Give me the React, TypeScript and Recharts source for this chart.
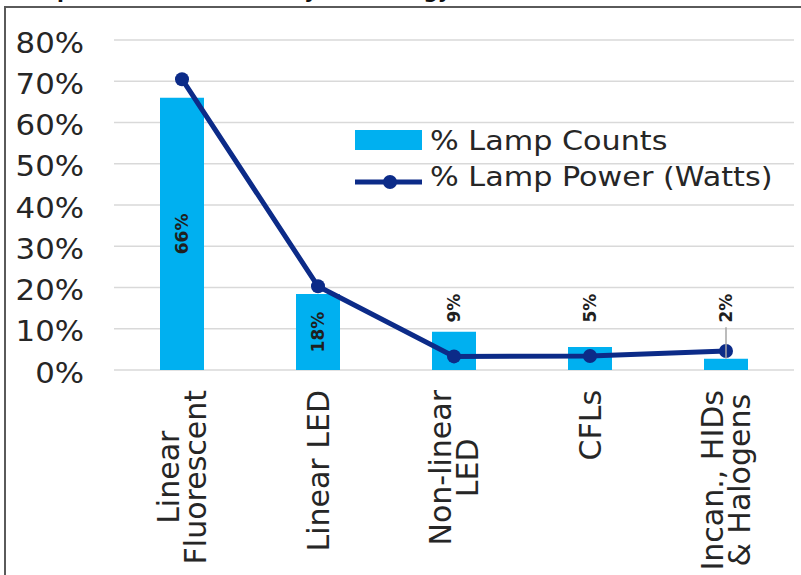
import React from 'react';
import { ComposedChart, Bar, Line, XAxis, YAxis, CartesianGrid, Legend, LabelList } from 'recharts';

const title = 'Lamp Counts and Power by Technology';
const categories = ['Linear\nFluorescent', 'Linear LED', 'Non-linear\nLED', 'CFLs', 'Incan., HIDs\n& Halogens'];
const lampCounts = [66, 18.4, 9.3, 5.6, 2.7];
const lampCountLabels = ['66%', '18%', '9%', '5%', '2%'];
const lampPower = [70.5, 20.3, 3.3, 3.4, 4.6];
const yTicks = [0, 10, 20, 30, 40, 50, 60, 70, 80];
const seriesNames = ['% Lamp Counts', '% Lamp Power (Watts)'];

const data = categories.map((c, i) => ({
  category: c,
  counts: lampCounts[i],
  power: lampPower[i],
}));

const BAR_COLOR = '#00B0F0';
const LINE_COLOR = '#0C2B88';
const TEXT_COLOR = '#262626';
const FONT = '"DejaVu Sans", Verdana, sans-serif';

let ctx: CanvasRenderingContext2D | null = null;
function measure(t: string, fs: number) {
  if (typeof document !== 'undefined') {
    if (!ctx) ctx = document.createElement('canvas').getContext('2d');
    if (ctx) {
      ctx.font = `${fs}px "DejaVu Sans"`;
      return ctx.measureText(t).width;
    }
  }
  return t.length * fs * 0.6;
}

const YTick = (p: any) => (
  <text
    transform={`translate(${p.x},${p.y}) scale(1.1,1)`}
    textAnchor="end"
    dy={12.5}
    fontSize={28}
    fontFamily={FONT}
    fill={TEXT_COLOR}
  >
    {`${p.payload.value}%`}
  </text>
);

const XTick = (p: any) => {
  const { x, y, payload } = p;
  const lines = String(payload.value).split('\n');
  const fs = 30;
  const spacing = 27;
  const maxLen = Math.max(...lines.map((l) => measure(l, fs)));
  const cy = y + maxLen / 2;
  return (
    <g>
      {lines.map((l, i) => {
        const cx = x + (i - (lines.length - 1) / 2) * spacing + fs * 0.36;
        return (
          <text
            key={i}
            transform={`translate(${cx},${cy}) rotate(-90)`}
            textAnchor="middle"
            fontSize={fs}
            fontFamily={FONT}
            fill={TEXT_COLOR}
          >
            {l}
          </text>
        );
      })}
    </g>
  );
};

const BarLabel = (p: any) => {
  const { x, y, width, height, value, index } = p;
  const cx = x + width / 2;
  const base = y + height;
  const pxPerUnit = height / value;
  const inside = value >= 15;
  const cy = inside ? y + height / 2 : base - 15 * pxPerUnit;
  const half = 16;
  const gap = y - (cy + half);
  const leader = !inside && gap > 25;
  return (
    <g>
      {leader && (
        <line x1={cx} x2={cx} y1={cy + half + 3} y2={y} stroke="#a6a6a6" strokeWidth={1.5} />
      )}
      <text
        transform={`translate(${cx},${cy}) rotate(-90)`}
        textAnchor="middle"
        dy="0.36em"
        fontSize={17}
        fontWeight="bold"
        fontFamily={FONT}
        fill="#1f1f1f"
      >
        {lampCountLabels[index]}
      </text>
    </g>
  );
};

const renderLegend = () => (
  <svg width={450} height={80} style={{ display: 'block', overflow: 'visible' }}>
    <rect x={5} y={10} width={67} height={20} fill={BAR_COLOR} />
    <text transform="translate(80,30) scale(1.12,1)" fontSize={27} fontFamily={FONT} fill={TEXT_COLOR}>
      {seriesNames[0]}
    </text>
    <line x1={5} x2={72} y1={62} y2={62} stroke={LINE_COLOR} strokeWidth={5} />
    <circle cx={40} cy={62} r={7} fill={LINE_COLOR} />
    <text transform="translate(80,66) scale(1.12,1)" fontSize={27} fontFamily={FONT} fill={TEXT_COLOR}>
      {seriesNames[1]}
    </text>
  </svg>
);

export default function App() {
  return (
    <div
      style={{
        position: 'absolute',
        left: 0,
        top: 0,
        width: 801,
        height: 575,
        overflow: 'hidden',
        background: '#fff',
      }}
    >
      <div
        style={{
          position: 'absolute',
          left: 4,
          top: 6,
          width: 1000,
          height: 1000,
          border: '2px solid #5a5a5a',
        }}
      />
      <svg width={801} height={12} style={{ position: 'absolute', left: 0, top: 0 }}>
        <text x={10} y={-2} fontSize={20} fontWeight="bold" fontFamily={FONT} fill="#111">
          {title}
        </text>
      </svg>
      <div style={{ position: 'absolute', left: 0, top: 0 }}>
        <ComposedChart
          width={801}
          height={575}
          data={data}
          margin={{ top: 40, right: 7, bottom: 0, left: 0 }}
        >
          <CartesianGrid vertical={false} stroke="#d9d9d9" strokeWidth={1.5} />
          <XAxis
            dataKey="category"
            height={205}
            axisLine={false}
            tickLine={false}
            tickSize={0}
            tickMargin={20}
            interval={0}
            tick={<XTick />}
          />
          <YAxis
            width={114}
            domain={[0, 80]}
            ticks={yTicks}
            axisLine={false}
            tickLine={false}
            tickSize={0}
            tickMargin={30}
            tick={<YTick />}
          />
          <Legend
            layout="horizontal"
            verticalAlign="middle"
            align="center"
            content={renderLegend}
            wrapperStyle={{ position: 'absolute', left: 350, top: 120, width: 450, height: 80 }}
          />
          <Bar dataKey="counts" name={seriesNames[0]} fill={BAR_COLOR} barSize={44} isAnimationActive={false}>
            <LabelList dataKey="counts" content={<BarLabel />} />
          </Bar>
          <Line
            type="linear"
            dataKey="power"
            name={seriesNames[1]}
            stroke={LINE_COLOR}
            strokeWidth={5}
            dot={{ r: 7, fill: LINE_COLOR, stroke: LINE_COLOR, strokeWidth: 0 }}
            activeDot={false}
            isAnimationActive={false}
          />
        </ComposedChart>
      </div>
    </div>
  );
}
